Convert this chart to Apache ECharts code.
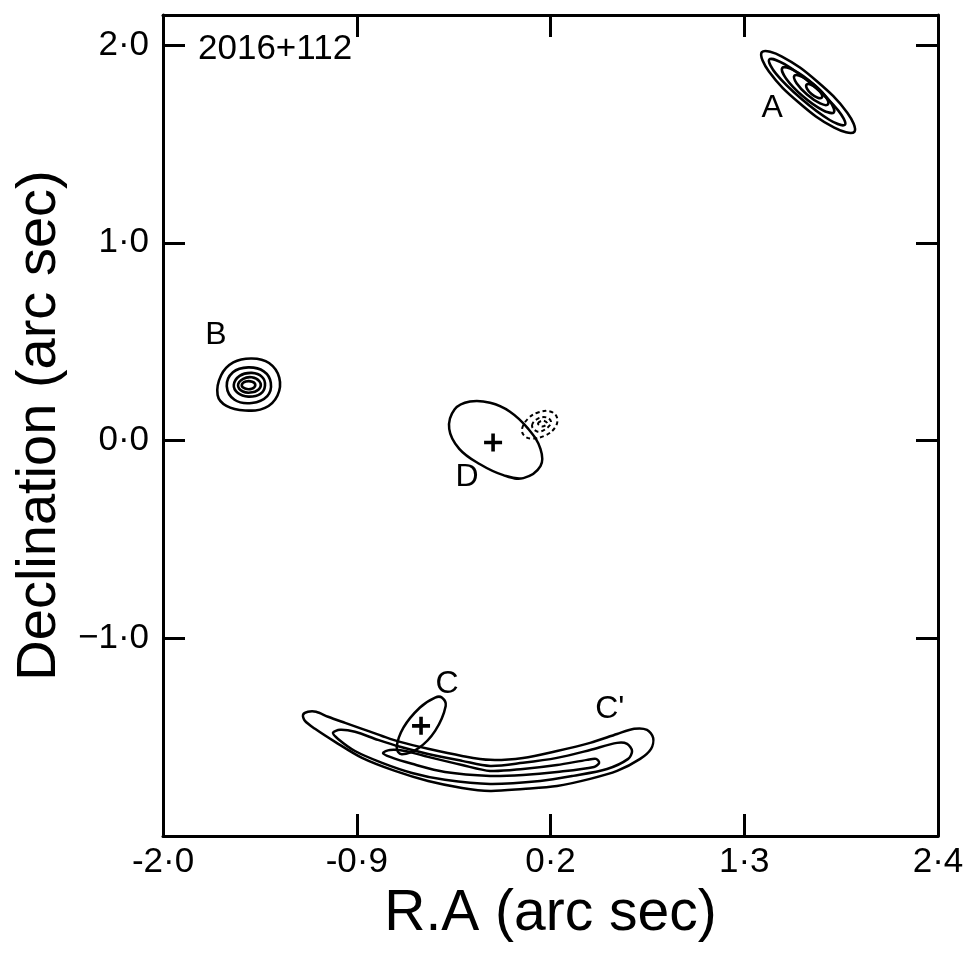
<!DOCTYPE html>
<html>
<head>
<meta charset="utf-8">
<script src="https://cdn.jsdelivr.net/npm/echarts@6/dist/echarts.min.js"></script>
<style>
html,body{margin:0;padding:0;background:#fff;}
#chart{width:967px;height:955px;}
</style>
</head>
<body>
<div id="chart"></div>
<script>
// ---- axis ticks ----
const xTickValues = [-2.0, -0.9, 0.2, 1.3, 2.4];
const xTickLabels = ['-2·0', '-0·9', '0·2', '1·3', '2·4'];
const yTickValues = [-1.0, 0.0, 1.0, 2.0];
const yTickLabels = ['−1·0', '0·0', '1·0', '2·0'];

// ---- contours (R.A, Dec in arcsec) ----
const contourA = [
  [[1.925,1.561],[1.811,1.582],[1.611,1.708],[1.440,1.866],[1.400,1.964],[1.514,1.942],[1.714,1.816],[1.885,1.658]],
  [[1.872,1.597],[1.785,1.621],[1.624,1.728],[1.481,1.854],[1.442,1.927],[1.529,1.903],[1.691,1.796],[1.833,1.670]],
  [[1.809,1.660],[1.745,1.671],[1.633,1.741],[1.538,1.830],[1.516,1.885],[1.580,1.873],[1.692,1.803],[1.787,1.714]],
  [[1.775,1.700],[1.731,1.705],[1.658,1.749],[1.597,1.807],[1.585,1.845],[1.629,1.839],[1.702,1.795],[1.763,1.737]],
  [[1.740,1.734],[1.717,1.733],[1.682,1.752],[1.656,1.780],[1.654,1.800],[1.676,1.801],[1.712,1.782],[1.738,1.754]]
];
const contourB = [
  [[-1.690,0.230],[-1.670,0.330],[-1.601,0.395],[-1.496,0.415],[-1.398,0.392],[-1.340,0.318],[-1.350,0.228],[-1.421,0.165],[-1.534,0.152],[-1.640,0.175]],
  [[-1.638,0.275],[-1.603,0.345],[-1.516,0.370],[-1.428,0.350],[-1.388,0.292],[-1.408,0.225],[-1.496,0.190],[-1.594,0.206]],
  [[-1.598,0.281],[-1.565,0.327],[-1.496,0.342],[-1.438,0.322],[-1.421,0.278],[-1.447,0.236],[-1.516,0.222],[-1.575,0.240]],
  [[-1.574,0.280],[-1.545,0.312],[-1.496,0.320],[-1.453,0.300],[-1.450,0.266],[-1.493,0.244],[-1.546,0.248]],
  [[-1.553,0.280],[-1.530,0.298],[-1.493,0.297],[-1.476,0.280],[-1.496,0.262],[-1.534,0.263]]
];
const contourCprime = [
  [[-1.205,-1.387],[-1.177,-1.372],[-1.131,-1.372],[-1.063,-1.397],[-0.966,-1.428],[-0.870,-1.458],[-0.756,-1.494],[-0.654,-1.524],[-0.495,-1.559],[-0.302,-1.595],[-0.143,-1.615],[0.044,-1.605],[0.237,-1.570],[0.425,-1.529],[0.578,-1.484],[0.675,-1.458],[0.748,-1.463],[0.783,-1.504],[0.771,-1.559],[0.709,-1.610],[0.578,-1.671],[0.425,-1.711],[0.237,-1.747],[0.044,-1.762],[-0.143,-1.772],[-0.302,-1.757],[-0.495,-1.722],[-0.683,-1.671],[-0.870,-1.605],[-1.023,-1.524],[-1.137,-1.458],[-1.194,-1.418]],
  [[-1.035,-1.478],[-0.995,-1.463],[-0.910,-1.473],[-0.779,-1.514],[-0.654,-1.549],[-0.495,-1.585],[-0.302,-1.620],[-0.143,-1.646],[0.044,-1.630],[0.237,-1.605],[0.425,-1.565],[0.578,-1.529],[0.635,-1.534],[0.663,-1.570],[0.641,-1.610],[0.521,-1.661],[0.328,-1.696],[0.141,-1.722],[-0.143,-1.737],[-0.399,-1.716],[-0.586,-1.681],[-0.756,-1.630],[-0.910,-1.570],[-1.006,-1.509]],
  [[-0.751,-1.580],[-0.711,-1.565],[-0.626,-1.570],[-0.495,-1.600],[-0.302,-1.641],[-0.143,-1.671],[0.044,-1.661],[0.237,-1.641],[0.408,-1.615],[0.459,-1.610],[0.476,-1.630],[0.447,-1.651],[0.237,-1.676],[0.044,-1.691],[-0.143,-1.696],[-0.399,-1.676],[-0.586,-1.635],[-0.711,-1.600]]
];
const componentEllipses = [
  // D
  [[-0.375,0.059],[-0.345,0.157],[-0.257,0.197],[-0.143,0.191],[-0.030,0.146],[0.074,0.059],[0.143,-0.042],[0.143,-0.130],[0.046,-0.190],[-0.068,-0.175],[-0.200,-0.120],[-0.318,-0.042]],
  // C
  [[-0.417,-1.300],[-0.395,-1.342],[-0.455,-1.468],[-0.550,-1.556],[-0.645,-1.586],[-0.673,-1.553],[-0.635,-1.452],[-0.541,-1.350],[-0.455,-1.300]]
];
const negativeContours = [
  [[0.039,0.061],[0.073,0.111],[0.129,0.142],[0.198,0.147],[0.237,0.116],[0.226,0.066],[0.169,0.025],[0.095,0.010],[0.050,0.025]],
  [[0.095,0.076],[0.129,0.111],[0.181,0.116],[0.203,0.091],[0.169,0.056],[0.124,0.046]],
  [[0.129,0.086],[0.158,0.101],[0.181,0.086],[0.152,0.071]]
];
const componentCentres = [[-0.126, -0.010], [-0.535, -1.443]];
const featureNames = ['A', 'B', 'C', "C'", 'D'];
const featurePositions = [[1.459, 1.681], [-1.700, 0.532], [-0.388, -1.230], [0.537, -1.357], [-0.274, -0.187]];

const FONT = '"Liberation Sans", Arial, sans-serif';

function ringSeries(rings, opts) {
  return {
    type: 'custom',
    coordinateSystem: 'cartesian2d',
    xAxisIndex: 0, yAxisIndex: 0,
    silent: true,
    clip: true,
    encode: { x: 0, y: 1 },
    data: rings.map(r => r[0]),
    renderItem: function (params, api) {
      const ring = rings[params.dataIndex];
      const pts = ring.map(p => api.coord(p));
      return {
        type: 'polygon',
        shape: { points: pts, smooth: opts.smooth },
        style: {
          fill: 'none',
          stroke: '#000',
          lineWidth: opts.width || 2.2,
          lineDash: opts.dash || null
        }
      };
    }
  };
}

const axisLine = { show: true, onZero: false, lineStyle: { color: '#000', width: 3 } };
const tickStyle = { color: '#000', width: 3 };

const option = {
  animation: false,
  backgroundColor: '#fff',
  title: {
    text: '2016+112',
    left: 193, top: 27,
    textStyle: { fontFamily: FONT, fontSize: 35, fontWeight: 'normal', color: '#000' }
  },
  grid: { left: 163, right: 29, top: 15, bottom: 119, containLabel: false },
  xAxis: [
    {
      type: 'value', position: 'bottom', min: -2.0, max: 2.4,
      axisLine: axisLine,
      axisTick: { show: true, inside: true, length: 22, lineStyle: tickStyle, customValues: xTickValues },
      axisLabel: {
        show: true, customValues: xTickValues, margin: 9,
        fontFamily: FONT, fontSize: 35, color: '#000',
        formatter: function (v) {
          let best = 0;
          xTickValues.forEach((t, i) => { if (Math.abs(t - v) < Math.abs(xTickValues[best] - v)) best = i; });
          return xTickLabels[best];
        }
      },
      splitLine: { show: false },
      name: 'R.A (arc sec)', nameLocation: 'middle', nameGap: 50,
      nameTextStyle: { fontFamily: FONT, fontSize: 57, color: '#000' }
    },
    {
      type: 'value', position: 'top', min: -2.0, max: 2.4,
      axisLine: axisLine,
      axisTick: { show: true, inside: true, length: 22, lineStyle: tickStyle, customValues: xTickValues },
      axisLabel: { show: false },
      splitLine: { show: false }
    }
  ],
  yAxis: [
    {
      type: 'value', position: 'left', min: -2.0, max: 2.152,
      axisLine: axisLine,
      axisTick: { show: true, inside: true, length: 22, lineStyle: tickStyle, customValues: yTickValues },
      axisLabel: {
        show: true, customValues: yTickValues, margin: 14,
        fontFamily: FONT, fontSize: 35, color: '#000',
        formatter: function (v) {
          let best = 0;
          yTickValues.forEach((t, i) => { if (Math.abs(t - v) < Math.abs(yTickValues[best] - v)) best = i; });
          return yTickLabels[best];
        }
      },
      splitLine: { show: false },
      name: 'Declination (arc sec)', nameLocation: 'middle', nameGap: 88, nameRotate: 90,
      nameTextStyle: { fontFamily: FONT, fontSize: 56, color: '#000' }
    },
    {
      type: 'value', position: 'right', min: -2.0, max: 2.152,
      axisLine: axisLine,
      axisTick: { show: true, inside: true, length: 22, lineStyle: tickStyle, customValues: yTickValues },
      axisLabel: { show: false },
      splitLine: { show: false }
    }
  ],
  series: [
    ringSeries(contourA, { smooth: 0.4, width: 2.6 }),
    ringSeries(contourB, { smooth: 0.4, width: 2.6 }),
    ringSeries(contourCprime, { smooth: 0.3, width: 2.5 }),
    ringSeries(componentEllipses, { smooth: 0.4, width: 2.5 }),
    ringSeries(negativeContours, { smooth: 0.4, width: 2, dash: [4, 3] }),
    {
      type: 'scatter',
      silent: true,
      symbol: 'path://M8,0H12V20H8Z M0,8H20V12H0Z',
      symbolSize: 18,
      itemStyle: { color: '#000', opacity: 1 },
      data: componentCentres
    },
    {
      type: 'scatter',
      silent: true,
      symbolSize: 1,
      itemStyle: { color: '#fff', opacity: 0 },
      label: {
        show: true, position: 'inside', formatter: '{b}',
        fontFamily: FONT, fontSize: 32, color: '#000', opacity: 1
      },
      data: featureNames.map((n, i) => ({ name: n, value: featurePositions[i] }))
    }
  ]
};

const chart = echarts.init(document.getElementById('chart'), null, { renderer: 'canvas' });
chart.setOption(option);
</script>
</body>
</html>
